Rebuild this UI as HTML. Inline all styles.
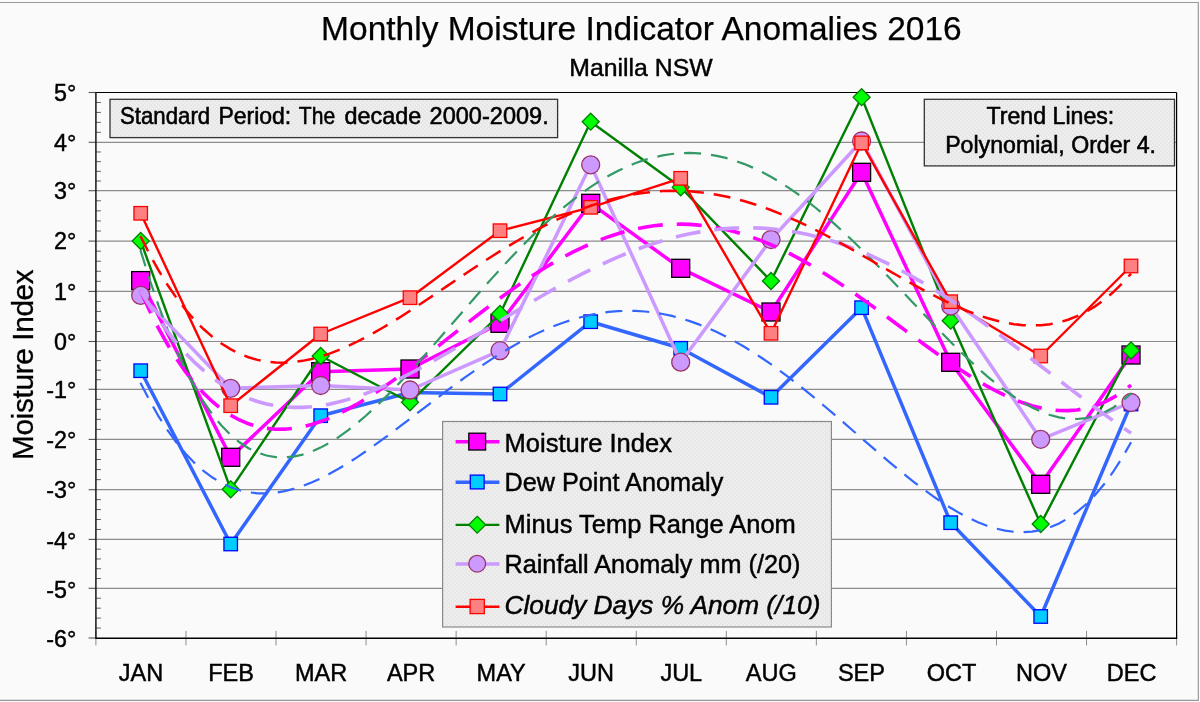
<!DOCTYPE html>
<html><head><meta charset="utf-8"><title>Monthly Moisture Indicator Anomalies 2016</title>
<style>html,body{margin:0;padding:0;background:#fafafa;}body{width:1200px;height:702px;overflow:hidden;font-family:"Liberation Sans",sans-serif;}svg{display:block;will-change:transform;}</style></head>
<body>
<svg width="1200" height="702" viewBox="0 0 1200 702" font-family="'Liberation Sans', sans-serif" fill="#000">
<style>text{stroke:#000;stroke-width:0.45px;fill:#000}</style>
<defs><pattern id="dots" width="4" height="4" patternUnits="userSpaceOnUse"><rect width="4" height="4" fill="#e7e7e7"/><rect x="0" y="0" width="1.4" height="2" fill="#f1f1f1"/><rect x="2" y="2" width="1.4" height="2" fill="#f1f1f1"/></pattern></defs>
<rect x="0" y="0" width="1200" height="702" fill="#fafafa"/>
<path d="M0 2.5H1198.3V700.3H0" fill="none" stroke="#989898" stroke-width="1.15"/>
<line x1="95.9" y1="588.3" x2="1176.6" y2="588.3" stroke="#8c8c8c" stroke-width="1.2"/>
<line x1="95.9" y1="539.4" x2="1176.6" y2="539.4" stroke="#8c8c8c" stroke-width="1.2"/>
<line x1="95.9" y1="489.7" x2="1176.6" y2="489.7" stroke="#8c8c8c" stroke-width="1.2"/>
<line x1="95.9" y1="439.4" x2="1176.6" y2="439.4" stroke="#8c8c8c" stroke-width="1.2"/>
<line x1="95.9" y1="389.3" x2="1176.6" y2="389.3" stroke="#8c8c8c" stroke-width="1.2"/>
<line x1="95.9" y1="341.5" x2="1176.6" y2="341.5" stroke="#8c8c8c" stroke-width="1.2"/>
<line x1="95.9" y1="291.4" x2="1176.6" y2="291.4" stroke="#8c8c8c" stroke-width="1.2"/>
<line x1="95.9" y1="241.1" x2="1176.6" y2="241.1" stroke="#8c8c8c" stroke-width="1.2"/>
<line x1="95.9" y1="190.7" x2="1176.6" y2="190.7" stroke="#8c8c8c" stroke-width="1.2"/>
<line x1="95.9" y1="142.3" x2="1176.6" y2="142.3" stroke="#8c8c8c" stroke-width="1.2"/>
<line x1="88.6" y1="92.5" x2="95.9" y2="92.5" stroke="#555" stroke-width="1.1"/>
<line x1="95.9" y1="102.46" x2="100.9" y2="102.46" stroke="#5a5a5a" stroke-width="0.95"/>
<line x1="95.9" y1="112.42" x2="100.9" y2="112.42" stroke="#5a5a5a" stroke-width="0.95"/>
<line x1="95.9" y1="122.38" x2="100.9" y2="122.38" stroke="#5a5a5a" stroke-width="0.95"/>
<line x1="95.9" y1="132.34" x2="100.9" y2="132.34" stroke="#5a5a5a" stroke-width="0.95"/>
<line x1="88.6" y1="142.3" x2="95.9" y2="142.3" stroke="#555" stroke-width="1.1"/>
<line x1="95.9" y1="151.98" x2="100.9" y2="151.98" stroke="#5a5a5a" stroke-width="0.95"/>
<line x1="95.9" y1="161.66" x2="100.9" y2="161.66" stroke="#5a5a5a" stroke-width="0.95"/>
<line x1="95.9" y1="171.34" x2="100.9" y2="171.34" stroke="#5a5a5a" stroke-width="0.95"/>
<line x1="95.9" y1="181.02" x2="100.9" y2="181.02" stroke="#5a5a5a" stroke-width="0.95"/>
<line x1="88.6" y1="190.7" x2="95.9" y2="190.7" stroke="#555" stroke-width="1.1"/>
<line x1="95.9" y1="200.78" x2="100.9" y2="200.78" stroke="#5a5a5a" stroke-width="0.95"/>
<line x1="95.9" y1="210.86" x2="100.9" y2="210.86" stroke="#5a5a5a" stroke-width="0.95"/>
<line x1="95.9" y1="220.94" x2="100.9" y2="220.94" stroke="#5a5a5a" stroke-width="0.95"/>
<line x1="95.9" y1="231.02" x2="100.9" y2="231.02" stroke="#5a5a5a" stroke-width="0.95"/>
<line x1="88.6" y1="241.1" x2="95.9" y2="241.1" stroke="#555" stroke-width="1.1"/>
<line x1="95.9" y1="251.16" x2="100.9" y2="251.16" stroke="#5a5a5a" stroke-width="0.95"/>
<line x1="95.9" y1="261.22" x2="100.9" y2="261.22" stroke="#5a5a5a" stroke-width="0.95"/>
<line x1="95.9" y1="271.28" x2="100.9" y2="271.28" stroke="#5a5a5a" stroke-width="0.95"/>
<line x1="95.9" y1="281.34" x2="100.9" y2="281.34" stroke="#5a5a5a" stroke-width="0.95"/>
<line x1="88.6" y1="291.4" x2="95.9" y2="291.4" stroke="#555" stroke-width="1.1"/>
<line x1="95.9" y1="301.42" x2="100.9" y2="301.42" stroke="#5a5a5a" stroke-width="0.95"/>
<line x1="95.9" y1="311.44" x2="100.9" y2="311.44" stroke="#5a5a5a" stroke-width="0.95"/>
<line x1="95.9" y1="321.46" x2="100.9" y2="321.46" stroke="#5a5a5a" stroke-width="0.95"/>
<line x1="95.9" y1="331.48" x2="100.9" y2="331.48" stroke="#5a5a5a" stroke-width="0.95"/>
<line x1="88.6" y1="341.5" x2="95.9" y2="341.5" stroke="#555" stroke-width="1.1"/>
<line x1="95.9" y1="351.06" x2="100.9" y2="351.06" stroke="#5a5a5a" stroke-width="0.95"/>
<line x1="95.9" y1="360.62" x2="100.9" y2="360.62" stroke="#5a5a5a" stroke-width="0.95"/>
<line x1="95.9" y1="370.18" x2="100.9" y2="370.18" stroke="#5a5a5a" stroke-width="0.95"/>
<line x1="95.9" y1="379.74" x2="100.9" y2="379.74" stroke="#5a5a5a" stroke-width="0.95"/>
<line x1="88.6" y1="389.3" x2="95.9" y2="389.3" stroke="#555" stroke-width="1.1"/>
<line x1="95.9" y1="399.32" x2="100.9" y2="399.32" stroke="#5a5a5a" stroke-width="0.95"/>
<line x1="95.9" y1="409.34" x2="100.9" y2="409.34" stroke="#5a5a5a" stroke-width="0.95"/>
<line x1="95.9" y1="419.36" x2="100.9" y2="419.36" stroke="#5a5a5a" stroke-width="0.95"/>
<line x1="95.9" y1="429.38" x2="100.9" y2="429.38" stroke="#5a5a5a" stroke-width="0.95"/>
<line x1="88.6" y1="439.4" x2="95.9" y2="439.4" stroke="#555" stroke-width="1.1"/>
<line x1="95.9" y1="449.46" x2="100.9" y2="449.46" stroke="#5a5a5a" stroke-width="0.95"/>
<line x1="95.9" y1="459.52" x2="100.9" y2="459.52" stroke="#5a5a5a" stroke-width="0.95"/>
<line x1="95.9" y1="469.58" x2="100.9" y2="469.58" stroke="#5a5a5a" stroke-width="0.95"/>
<line x1="95.9" y1="479.64" x2="100.9" y2="479.64" stroke="#5a5a5a" stroke-width="0.95"/>
<line x1="88.6" y1="489.7" x2="95.9" y2="489.7" stroke="#555" stroke-width="1.1"/>
<line x1="95.9" y1="499.64" x2="100.9" y2="499.64" stroke="#5a5a5a" stroke-width="0.95"/>
<line x1="95.9" y1="509.58" x2="100.9" y2="509.58" stroke="#5a5a5a" stroke-width="0.95"/>
<line x1="95.9" y1="519.52" x2="100.9" y2="519.52" stroke="#5a5a5a" stroke-width="0.95"/>
<line x1="95.9" y1="529.46" x2="100.9" y2="529.46" stroke="#5a5a5a" stroke-width="0.95"/>
<line x1="88.6" y1="539.4" x2="95.9" y2="539.4" stroke="#555" stroke-width="1.1"/>
<line x1="95.9" y1="549.18" x2="100.9" y2="549.18" stroke="#5a5a5a" stroke-width="0.95"/>
<line x1="95.9" y1="558.96" x2="100.9" y2="558.96" stroke="#5a5a5a" stroke-width="0.95"/>
<line x1="95.9" y1="568.74" x2="100.9" y2="568.74" stroke="#5a5a5a" stroke-width="0.95"/>
<line x1="95.9" y1="578.52" x2="100.9" y2="578.52" stroke="#5a5a5a" stroke-width="0.95"/>
<line x1="88.6" y1="588.3" x2="95.9" y2="588.3" stroke="#555" stroke-width="1.1"/>
<line x1="95.9" y1="598.24" x2="100.9" y2="598.24" stroke="#5a5a5a" stroke-width="0.95"/>
<line x1="95.9" y1="608.18" x2="100.9" y2="608.18" stroke="#5a5a5a" stroke-width="0.95"/>
<line x1="95.9" y1="618.12" x2="100.9" y2="618.12" stroke="#5a5a5a" stroke-width="0.95"/>
<line x1="95.9" y1="628.06" x2="100.9" y2="628.06" stroke="#5a5a5a" stroke-width="0.95"/>
<line x1="88.6" y1="638" x2="95.9" y2="638" stroke="#555" stroke-width="1.1"/>
<line x1="95.9" y1="630.9" x2="95.9" y2="645.5" stroke="#8e8e8e" stroke-width="1"/>
<line x1="185.96" y1="630.9" x2="185.96" y2="645.5" stroke="#8e8e8e" stroke-width="1"/>
<line x1="276.02" y1="630.9" x2="276.02" y2="645.5" stroke="#8e8e8e" stroke-width="1"/>
<line x1="366.07" y1="630.9" x2="366.07" y2="645.5" stroke="#8e8e8e" stroke-width="1"/>
<line x1="456.13" y1="630.9" x2="456.13" y2="645.5" stroke="#8e8e8e" stroke-width="1"/>
<line x1="546.19" y1="630.9" x2="546.19" y2="645.5" stroke="#8e8e8e" stroke-width="1"/>
<line x1="636.25" y1="630.9" x2="636.25" y2="645.5" stroke="#8e8e8e" stroke-width="1"/>
<line x1="726.31" y1="630.9" x2="726.31" y2="645.5" stroke="#8e8e8e" stroke-width="1"/>
<line x1="816.37" y1="630.9" x2="816.37" y2="645.5" stroke="#8e8e8e" stroke-width="1"/>
<line x1="906.42" y1="630.9" x2="906.42" y2="645.5" stroke="#8e8e8e" stroke-width="1"/>
<line x1="996.48" y1="630.9" x2="996.48" y2="645.5" stroke="#8e8e8e" stroke-width="1"/>
<line x1="1086.54" y1="630.9" x2="1086.54" y2="645.5" stroke="#8e8e8e" stroke-width="1"/>
<line x1="1176.6" y1="630.9" x2="1176.6" y2="645.5" stroke="#8e8e8e" stroke-width="1"/>
<line x1="95.9" y1="92.5" x2="1176.6" y2="92.5" stroke="#000" stroke-width="1.2"/>
<line x1="1176.6" y1="92.5" x2="1176.6" y2="638.2" stroke="#000" stroke-width="1.2"/>
<line x1="95.9" y1="91.9" x2="95.9" y2="639" stroke="#151515" stroke-width="1.5"/>
<line x1="95.9" y1="638.2" x2="1177.2" y2="638.2" stroke="#000" stroke-width="1.35"/>
<polyline points="140.7,280.6 230.7,457.3 320.7,371.7 410,369 500,323.3 590.7,203.3 680.7,268.3 771,312 861.6,172.3 950.7,362.3 1040.7,484.3 1131,355" fill="none" stroke="#ff00ff" stroke-width="3.5" stroke-linejoin="round"/>
<rect x="131.7" y="271.6" width="18" height="18" fill="#ff00ff" stroke="#000000" stroke-width="1.3"/>
<rect x="221.7" y="448.3" width="18" height="18" fill="#ff00ff" stroke="#000000" stroke-width="1.3"/>
<rect x="311.7" y="362.7" width="18" height="18" fill="#ff00ff" stroke="#000000" stroke-width="1.3"/>
<rect x="401" y="360" width="18" height="18" fill="#ff00ff" stroke="#000000" stroke-width="1.3"/>
<rect x="491" y="314.3" width="18" height="18" fill="#ff00ff" stroke="#000000" stroke-width="1.3"/>
<rect x="581.7" y="194.3" width="18" height="18" fill="#ff00ff" stroke="#000000" stroke-width="1.3"/>
<rect x="671.7" y="259.3" width="18" height="18" fill="#ff00ff" stroke="#000000" stroke-width="1.3"/>
<rect x="762" y="303" width="18" height="18" fill="#ff00ff" stroke="#000000" stroke-width="1.3"/>
<rect x="852.6" y="163.3" width="18" height="18" fill="#ff00ff" stroke="#000000" stroke-width="1.3"/>
<rect x="941.7" y="353.3" width="18" height="18" fill="#ff00ff" stroke="#000000" stroke-width="1.3"/>
<rect x="1031.7" y="475.3" width="18" height="18" fill="#ff00ff" stroke="#000000" stroke-width="1.3"/>
<rect x="1122" y="346" width="18" height="18" fill="#ff00ff" stroke="#000000" stroke-width="1.3"/>
<polyline points="140.7,370.7 230.7,544 320.7,415.7 410,392.5 500,394 590.7,321.7 680.7,348.3 771,397.3 861.6,307.7 950.7,522.7 1040.7,616.5 1131,404" fill="none" stroke="#3366ff" stroke-width="3.5" stroke-linejoin="round"/>
<rect x="133.95" y="363.95" width="13.5" height="13.5" fill="#00ccff" stroke="#0000ff" stroke-width="1.3"/>
<rect x="223.95" y="537.25" width="13.5" height="13.5" fill="#00ccff" stroke="#0000ff" stroke-width="1.3"/>
<rect x="313.95" y="408.95" width="13.5" height="13.5" fill="#00ccff" stroke="#0000ff" stroke-width="1.3"/>
<rect x="403.25" y="385.75" width="13.5" height="13.5" fill="#00ccff" stroke="#0000ff" stroke-width="1.3"/>
<rect x="493.25" y="387.25" width="13.5" height="13.5" fill="#00ccff" stroke="#0000ff" stroke-width="1.3"/>
<rect x="583.95" y="314.95" width="13.5" height="13.5" fill="#00ccff" stroke="#0000ff" stroke-width="1.3"/>
<rect x="673.95" y="341.55" width="13.5" height="13.5" fill="#00ccff" stroke="#0000ff" stroke-width="1.3"/>
<rect x="764.25" y="390.55" width="13.5" height="13.5" fill="#00ccff" stroke="#0000ff" stroke-width="1.3"/>
<rect x="854.85" y="300.95" width="13.5" height="13.5" fill="#00ccff" stroke="#0000ff" stroke-width="1.3"/>
<rect x="943.95" y="515.95" width="13.5" height="13.5" fill="#00ccff" stroke="#0000ff" stroke-width="1.3"/>
<rect x="1033.95" y="609.75" width="13.5" height="13.5" fill="#00ccff" stroke="#0000ff" stroke-width="1.3"/>
<rect x="1124.25" y="397.25" width="13.5" height="13.5" fill="#00ccff" stroke="#0000ff" stroke-width="1.3"/>
<polyline points="140.7,241 230.7,489.3 320.7,356 410,402.3 500,314 590.7,121.7 680.7,187.3 771,281 861.6,97.2 950.7,320.7 1040.7,524 1131,350.5" fill="none" stroke="#008000" stroke-width="2.4" stroke-linejoin="round"/>
<path d="M140.7 232.5L149.2 241L140.7 249.5L132.2 241Z" fill="#00ff00" stroke="#008000" stroke-width="1.3"/>
<path d="M230.7 480.8L239.2 489.3L230.7 497.8L222.2 489.3Z" fill="#00ff00" stroke="#008000" stroke-width="1.3"/>
<path d="M320.7 347.5L329.2 356L320.7 364.5L312.2 356Z" fill="#00ff00" stroke="#008000" stroke-width="1.3"/>
<path d="M410 393.8L418.5 402.3L410 410.8L401.5 402.3Z" fill="#00ff00" stroke="#008000" stroke-width="1.3"/>
<path d="M500 305.5L508.5 314L500 322.5L491.5 314Z" fill="#00ff00" stroke="#008000" stroke-width="1.3"/>
<path d="M590.7 113.2L599.2 121.7L590.7 130.2L582.2 121.7Z" fill="#00ff00" stroke="#008000" stroke-width="1.3"/>
<path d="M680.7 178.8L689.2 187.3L680.7 195.8L672.2 187.3Z" fill="#00ff00" stroke="#008000" stroke-width="1.3"/>
<path d="M771 272.5L779.5 281L771 289.5L762.5 281Z" fill="#00ff00" stroke="#008000" stroke-width="1.3"/>
<path d="M861.6 88.7L870.1 97.2L861.6 105.7L853.1 97.2Z" fill="#00ff00" stroke="#008000" stroke-width="1.3"/>
<path d="M950.7 312.2L959.2 320.7L950.7 329.2L942.2 320.7Z" fill="#00ff00" stroke="#008000" stroke-width="1.3"/>
<path d="M1040.7 515.5L1049.2 524L1040.7 532.5L1032.2 524Z" fill="#00ff00" stroke="#008000" stroke-width="1.3"/>
<path d="M1131 342L1139.5 350.5L1131 359L1122.5 350.5Z" fill="#00ff00" stroke="#008000" stroke-width="1.3"/>
<polyline points="140.7,295.4 230.7,388.3 320.7,385.5 410,390 500,350.7 590.7,164.8 680.7,362.2 771,239.5 861.6,141 950.7,306 1040.7,439.3 1131,402.5" fill="none" stroke="#cc99ff" stroke-width="3.5" stroke-linejoin="round"/>
<circle cx="140.7" cy="295.4" r="9" fill="#cc99ff" stroke="#993366" stroke-width="1.3"/>
<circle cx="230.7" cy="388.3" r="9" fill="#cc99ff" stroke="#993366" stroke-width="1.3"/>
<circle cx="320.7" cy="385.5" r="9" fill="#cc99ff" stroke="#993366" stroke-width="1.3"/>
<circle cx="410" cy="390" r="9" fill="#cc99ff" stroke="#993366" stroke-width="1.3"/>
<circle cx="500" cy="350.7" r="9" fill="#cc99ff" stroke="#993366" stroke-width="1.3"/>
<circle cx="590.7" cy="164.8" r="9" fill="#cc99ff" stroke="#993366" stroke-width="1.3"/>
<circle cx="680.7" cy="362.2" r="9" fill="#cc99ff" stroke="#993366" stroke-width="1.3"/>
<circle cx="771" cy="239.5" r="9" fill="#cc99ff" stroke="#993366" stroke-width="1.3"/>
<circle cx="861.6" cy="141" r="9" fill="#cc99ff" stroke="#993366" stroke-width="1.3"/>
<circle cx="950.7" cy="306" r="9" fill="#cc99ff" stroke="#993366" stroke-width="1.3"/>
<circle cx="1040.7" cy="439.3" r="9" fill="#cc99ff" stroke="#993366" stroke-width="1.3"/>
<circle cx="1131" cy="402.5" r="9" fill="#cc99ff" stroke="#993366" stroke-width="1.3"/>
<polyline points="140.7,213.3 230.7,405.7 320.7,334 410,297.7 500,230.7 590.7,207.3 680.7,178.3 771,333.3 861.6,142.9 950.7,301.7 1040.7,356 1131,266" fill="none" stroke="#ff0000" stroke-width="2.4" stroke-linejoin="round"/>
<rect x="133.95" y="206.55" width="13.5" height="13.5" fill="#ff8080" stroke="#ff0000" stroke-width="1.3"/>
<rect x="223.95" y="398.95" width="13.5" height="13.5" fill="#ff8080" stroke="#ff0000" stroke-width="1.3"/>
<rect x="313.95" y="327.25" width="13.5" height="13.5" fill="#ff8080" stroke="#ff0000" stroke-width="1.3"/>
<rect x="403.25" y="290.95" width="13.5" height="13.5" fill="#ff8080" stroke="#ff0000" stroke-width="1.3"/>
<rect x="493.25" y="223.95" width="13.5" height="13.5" fill="#ff8080" stroke="#ff0000" stroke-width="1.3"/>
<rect x="583.95" y="200.55" width="13.5" height="13.5" fill="#ff8080" stroke="#ff0000" stroke-width="1.3"/>
<rect x="673.95" y="171.55" width="13.5" height="13.5" fill="#ff8080" stroke="#ff0000" stroke-width="1.3"/>
<rect x="764.25" y="326.55" width="13.5" height="13.5" fill="#ff8080" stroke="#ff0000" stroke-width="1.3"/>
<rect x="854.85" y="136.15" width="13.5" height="13.5" fill="#ff8080" stroke="#ff0000" stroke-width="1.3"/>
<rect x="943.95" y="294.95" width="13.5" height="13.5" fill="#ff8080" stroke="#ff0000" stroke-width="1.3"/>
<rect x="1033.95" y="349.25" width="13.5" height="13.5" fill="#ff8080" stroke="#ff0000" stroke-width="1.3"/>
<rect x="1124.25" y="259.25" width="13.5" height="13.5" fill="#ff8080" stroke="#ff0000" stroke-width="1.3"/>
<polyline points="140.43,290.48 149.44,310.17 158.44,328.06 167.45,344.22 176.45,358.73 185.46,371.66 194.46,383.09 203.47,393.07 212.48,401.69 221.48,409.01 230.49,415.09 239.49,420 248.5,423.8 257.5,426.56 266.51,428.33 275.52,429.18 284.52,429.17 293.53,428.34 302.53,426.76 311.54,424.49 320.55,421.56 329.55,418.04 338.56,413.98 347.56,409.43 356.57,404.43 365.57,399.02 374.58,393.27 383.59,387.2 392.59,380.87 401.6,374.31 410.6,367.56 419.61,360.66 428.62,353.66 437.62,346.58 446.63,339.46 455.63,332.34 464.64,325.24 473.64,318.2 482.65,311.25 491.66,304.42 500.66,297.73 509.67,291.2 518.67,284.87 527.68,278.76 536.69,272.89 545.69,267.27 554.7,261.93 563.7,256.89 572.71,252.16 581.72,247.77 590.72,243.71 599.73,240.01 608.73,236.67 617.74,233.71 626.74,231.14 635.75,228.96 644.76,227.19 653.76,225.81 662.77,224.85 671.77,224.29 680.78,224.15 689.78,224.41 698.79,225.09 707.8,226.18 716.8,227.67 725.81,229.55 734.81,231.83 743.82,234.49 752.83,237.53 761.83,240.92 770.84,244.67 779.84,248.76 788.85,253.17 797.85,257.88 806.86,262.89 815.87,268.17 824.87,273.7 833.88,279.46 842.88,285.44 851.89,291.59 860.9,297.91 869.9,304.36 878.91,310.92 887.91,317.55 896.92,324.24 905.92,330.93 914.93,337.62 923.94,344.25 932.94,350.79 941.95,357.22 950.95,363.48 959.96,369.54 968.97,375.37 977.97,380.91 986.98,386.12 995.98,390.97 1004.99,395.4 1014,399.36 1023,402.82 1032.01,405.71 1041.01,408 1050.02,409.62 1059.02,410.52 1068.03,410.65 1077.04,409.96 1086.04,408.37 1095.05,405.85 1104.05,402.32 1113.06,397.72 1122.07,391.99 1131.07,385.07" fill="none" stroke="#ff00ff" stroke-width="3.6" stroke-dasharray="25 14"/>
<polyline points="140.43,382.64 149.44,400.26 158.44,416.08 167.45,430.17 176.45,442.62 185.46,453.5 194.46,462.9 203.47,470.88 212.48,477.53 221.48,482.92 230.49,487.13 239.49,490.21 248.5,492.24 257.5,493.28 266.51,493.41 275.52,492.69 284.52,491.17 293.53,488.93 302.53,486.01 311.54,482.49 320.55,478.4 329.55,473.82 338.56,468.79 347.56,463.36 356.57,457.59 365.57,451.53 374.58,445.21 383.59,438.69 392.59,432.01 401.6,425.22 410.6,418.35 419.61,411.44 428.62,404.54 437.62,397.67 446.63,390.88 455.63,384.19 464.64,377.65 473.64,371.28 482.65,365.1 491.66,359.15 500.66,353.45 509.67,348.02 518.67,342.9 527.68,338.09 536.69,333.62 545.69,329.51 554.7,325.78 563.7,322.43 572.71,319.48 581.72,316.95 590.72,314.84 599.73,313.17 608.73,311.94 617.74,311.15 626.74,310.81 635.75,310.93 644.76,311.5 653.76,312.52 662.77,314 671.77,315.93 680.78,318.29 689.78,321.1 698.79,324.34 707.8,327.99 716.8,332.06 725.81,336.51 734.81,341.36 743.82,346.56 752.83,352.12 761.83,358 770.84,364.19 779.84,370.68 788.85,377.42 797.85,384.41 806.86,391.6 815.87,398.98 824.87,406.52 833.88,414.18 842.88,421.93 851.89,429.74 860.9,437.57 869.9,445.38 878.91,453.14 887.91,460.8 896.92,468.33 905.92,475.67 914.93,482.79 923.94,489.64 932.94,496.17 941.95,502.33 950.95,508.06 959.96,513.33 968.97,518.07 977.97,522.22 986.98,525.73 995.98,528.55 1004.99,530.6 1014,531.84 1023,532.19 1032.01,531.59 1041.01,529.97 1050.02,527.27 1059.02,523.42 1068.03,518.34 1077.04,511.96 1086.04,504.22 1095.05,495.02 1104.05,484.3 1113.06,471.98 1122.07,457.98 1131.07,442.21" fill="none" stroke="#3366ff" stroke-width="2.2" stroke-dasharray="17 10"/>
<polyline points="140.43,250.06 149.44,278.99 158.44,305.32 167.45,329.15 176.45,350.6 185.46,369.76 194.46,386.74 203.47,401.63 212.48,414.54 221.48,425.55 230.49,434.77 239.49,442.29 248.5,448.19 257.5,452.57 266.51,455.51 275.52,457.1 284.52,457.42 293.53,456.55 302.53,454.57 311.54,451.57 320.55,447.6 329.55,442.76 338.56,437.11 347.56,430.72 356.57,423.66 365.57,416 374.58,407.81 383.59,399.14 392.59,390.05 401.6,380.62 410.6,370.89 419.61,360.91 428.62,350.76 437.62,340.47 446.63,330.1 455.63,319.69 464.64,309.3 473.64,298.96 482.65,288.72 491.66,278.63 500.66,268.72 509.67,259.02 518.67,249.58 527.68,240.43 536.69,231.61 545.69,223.13 554.7,215.03 563.7,207.34 572.71,200.08 581.72,193.27 590.72,186.94 599.73,181.11 608.73,175.79 617.74,170.99 626.74,166.74 635.75,163.05 644.76,159.91 653.76,157.35 662.77,155.38 671.77,153.98 680.78,153.17 689.78,152.96 698.79,153.32 707.8,154.28 716.8,155.82 725.81,157.93 734.81,160.6 743.82,163.84 752.83,167.62 761.83,171.93 770.84,176.76 779.84,182.09 788.85,187.91 797.85,194.18 806.86,200.89 815.87,208.01 824.87,215.52 833.88,223.38 842.88,231.58 851.89,240.07 860.9,248.83 869.9,257.82 878.91,267 887.91,276.33 896.92,285.77 905.92,295.28 914.93,304.82 923.94,314.33 932.94,323.77 941.95,333.1 950.95,342.25 959.96,351.17 968.97,359.82 977.97,368.13 986.98,376.04 995.98,383.49 1004.99,390.42 1014,396.77 1023,402.47 1032.01,407.45 1041.01,411.63 1050.02,414.96 1059.02,417.35 1068.03,418.73 1077.04,419.02 1086.04,418.15 1095.05,416.02 1104.05,412.57 1113.06,407.7 1122.07,401.33 1131.07,393.37" fill="none" stroke="#339966" stroke-width="2.2" stroke-dasharray="17 10"/>
<polyline points="140.43,290.75 149.44,305.49 158.44,319.04 167.45,331.44 176.45,342.75 185.46,352.99 194.46,362.21 203.47,370.45 212.48,377.75 221.48,384.15 230.49,389.69 239.49,394.4 248.5,398.33 257.5,401.5 266.51,403.97 275.52,405.75 284.52,406.89 293.53,407.42 302.53,407.37 311.54,406.79 320.55,405.69 329.55,404.11 338.56,402.08 347.56,399.63 356.57,396.8 365.57,393.61 374.58,390.09 383.59,386.26 392.59,382.16 401.6,377.81 410.6,373.24 419.61,368.47 428.62,363.53 437.62,358.44 446.63,353.23 455.63,347.91 464.64,342.52 473.64,337.06 482.65,331.57 491.66,326.06 500.66,320.56 509.67,315.08 518.67,309.63 527.68,304.25 536.69,298.94 545.69,293.72 554.7,288.62 563.7,283.63 572.71,278.78 581.72,274.09 590.72,269.56 599.73,265.2 608.73,261.04 617.74,257.08 626.74,253.34 635.75,249.81 644.76,246.52 653.76,243.47 662.77,240.67 671.77,238.13 680.78,235.85 689.78,233.85 698.79,232.12 707.8,230.67 716.8,229.52 725.81,228.65 734.81,228.08 743.82,227.8 752.83,227.83 761.83,228.15 770.84,228.78 779.84,229.71 788.85,230.94 797.85,232.47 806.86,234.3 815.87,236.42 824.87,238.84 833.88,241.55 842.88,244.54 851.89,247.82 860.9,251.37 869.9,255.19 878.91,259.27 887.91,263.61 896.92,268.19 905.92,273.02 914.93,278.07 923.94,283.34 932.94,288.83 941.95,294.5 950.95,300.37 959.96,306.41 968.97,312.61 977.97,318.96 986.98,325.44 995.98,332.04 1004.99,338.74 1014,345.53 1023,352.38 1032.01,359.29 1041.01,366.23 1050.02,373.19 1059.02,380.15 1068.03,387.08 1077.04,393.96 1086.04,400.78 1095.05,407.52 1104.05,414.14 1113.06,420.63 1122.07,426.97 1131.07,433.12" fill="none" stroke="#cc99ff" stroke-width="3.6" stroke-dasharray="25 14"/>
<polyline points="140.43,236.09 149.44,253.89 158.44,270.08 167.45,284.71 176.45,297.85 185.46,309.58 194.46,319.96 203.47,329.04 212.48,336.9 221.48,343.59 230.49,349.17 239.49,353.71 248.5,357.26 257.5,359.88 266.51,361.61 275.52,362.53 284.52,362.67 293.53,362.09 302.53,360.85 311.54,358.98 320.55,356.54 329.55,353.58 338.56,350.14 347.56,346.26 356.57,341.99 365.57,337.37 374.58,332.45 383.59,327.25 392.59,321.82 401.6,316.19 410.6,310.41 419.61,304.5 428.62,298.5 437.62,292.44 446.63,286.35 455.63,280.27 464.64,274.21 473.64,268.22 482.65,262.3 491.66,256.5 500.66,250.83 509.67,245.31 518.67,239.97 527.68,234.83 536.69,229.9 545.69,225.2 554.7,220.75 563.7,216.57 572.71,212.67 581.72,209.05 590.72,205.74 599.73,202.74 608.73,200.06 617.74,197.72 626.74,195.7 635.75,194.04 644.76,192.71 653.76,191.74 662.77,191.12 671.77,190.85 680.78,190.93 689.78,191.35 698.79,192.13 707.8,193.25 716.8,194.7 725.81,196.48 734.81,198.59 743.82,201.01 752.83,203.73 761.83,206.74 770.84,210.03 779.84,213.58 788.85,217.39 797.85,221.42 806.86,225.67 815.87,230.12 824.87,234.75 833.88,239.52 842.88,244.43 851.89,249.45 860.9,254.56 869.9,259.72 878.91,264.91 887.91,270.1 896.92,275.27 905.92,280.38 914.93,285.39 923.94,290.29 932.94,295.02 941.95,299.56 950.95,303.87 959.96,307.9 968.97,311.63 977.97,315.01 986.98,317.99 995.98,320.54 1004.99,322.62 1014,324.16 1023,325.14 1032.01,325.49 1041.01,325.18 1050.02,324.14 1059.02,322.34 1068.03,319.71 1077.04,316.21 1086.04,311.77 1095.05,306.34 1104.05,299.87 1113.06,292.29 1122.07,283.54 1131.07,273.57" fill="none" stroke="#ff0000" stroke-width="2.5" stroke-dasharray="17 10"/>
<rect x="110" y="99.3" width="447.6" height="38.3" fill="url(#dots)" stroke="#333" stroke-width="1.3"/>
<text x="120" y="123.5" font-size="23.4" textLength="90.2" lengthAdjust="spacingAndGlyphs" style="stroke-width:0.55px">Standard</text>
<text x="218.4" y="123.5" font-size="23.4" textLength="72.8" lengthAdjust="spacingAndGlyphs" style="stroke-width:0.55px">Period:</text>
<text x="298.8" y="123.5" font-size="23.4" textLength="36.3" lengthAdjust="spacingAndGlyphs" style="stroke-width:0.55px">The</text>
<text x="344.6" y="123.5" font-size="23.4" textLength="76.59" lengthAdjust="spacingAndGlyphs" style="stroke-width:0.55px">decade</text>
<text x="429.6" y="123.5" font-size="23.4" textLength="119.1" lengthAdjust="spacingAndGlyphs" style="stroke-width:0.55px">2000-2009.</text>
<rect x="924.3" y="99.3" width="250.2" height="66.6" fill="url(#dots)" stroke="#333" stroke-width="1.3"/>
<text x="1050.4" y="123.8" font-size="23.15" text-anchor="middle" style="stroke-width:0.55px">Trend Lines:</text>
<text x="1050.6" y="152.9" font-size="23.15" text-anchor="middle" style="stroke-width:0.55px">Polynomial, Order 4.</text>
<rect x="442.6" y="421.5" width="388.8" height="205.5" fill="url(#dots)" stroke="#8a8a8a" stroke-width="1.2"/>
<line x1="455.6" y1="441.8" x2="499.4" y2="441.8" stroke="#ff00ff" stroke-width="3.5"/>
<rect x="468.8" y="433.2" width="16.8" height="16.8" fill="#ff00ff" stroke="#000000" stroke-width="1.3"/>
<text x="504.5" y="451.6" font-size="25.2" textLength="167.4" lengthAdjust="spacingAndGlyphs">Moisture Index</text>
<line x1="455.6" y1="482.2" x2="499.4" y2="482.2" stroke="#3366ff" stroke-width="3.5"/>
<rect x="470.3" y="475.1" width="13.8" height="13.8" fill="#00ccff" stroke="#0000ff" stroke-width="1.3"/>
<text x="504.5" y="491.2" font-size="25.2" textLength="218.8" lengthAdjust="spacingAndGlyphs">Dew Point Anomaly</text>
<line x1="455.6" y1="524.9" x2="499.4" y2="524.9" stroke="#008000" stroke-width="2.4"/>
<path d="M477.2 516.3L485.6 524.7L477.2 533.1L468.8 524.7Z" fill="#00ff00" stroke="#008000" stroke-width="1.3"/>
<text x="504.5" y="533.1" font-size="25.2" textLength="291.3" lengthAdjust="spacingAndGlyphs">Minus Temp Range Anom</text>
<line x1="455.6" y1="563.9" x2="499.4" y2="563.9" stroke="#cc99ff" stroke-width="3.5"/>
<circle cx="477.2" cy="563.7" r="8.4" fill="#cc99ff" stroke="#993366" stroke-width="1.3"/>
<text x="504.5" y="572.7" font-size="25.2" textLength="295.9" lengthAdjust="spacingAndGlyphs">Rainfall Anomaly mm (/20)</text>
<line x1="455.6" y1="606.7" x2="499.4" y2="606.7" stroke="#ff0000" stroke-width="2.4"/>
<rect x="470.1" y="599.4" width="14.2" height="14.2" fill="#ff8080" stroke="#ff0000" stroke-width="1.3"/>
<text x="504.5" y="614.1" font-size="25.2" textLength="315.9" lengthAdjust="spacingAndGlyphs" font-style="italic">Cloudy Days % Anom (/10)</text>
<text x="641.4" y="40" font-size="33.5" style="stroke-width:0.25px" text-anchor="middle" fill="#000">Monthly Moisture Indicator Anomalies 2016</text>
<text x="641" y="75.7" font-size="24.8" text-anchor="middle" fill="#000">Manilla NSW</text>
<text transform="translate(32.8 364.6) rotate(-90)" font-size="29.8" textLength="190.6" lengthAdjust="spacing" style="stroke-width:0.3px" text-anchor="middle" fill="#000">Moisture Index</text>
<text x="76.4" y="100.85" font-size="23.3" text-anchor="end">5°</text>
<text x="76.4" y="150.65" font-size="23.3" text-anchor="end">4°</text>
<text x="76.4" y="199.05" font-size="23.3" text-anchor="end">3°</text>
<text x="76.4" y="249.45" font-size="23.3" text-anchor="end">2°</text>
<text x="76.4" y="299.75" font-size="23.3" text-anchor="end">1°</text>
<text x="76.4" y="349.85" font-size="23.3" text-anchor="end">0°</text>
<text x="76.4" y="397.95" font-size="23.3" text-anchor="end">-1°</text>
<text x="76.4" y="448" font-size="23.3" text-anchor="end">-2°</text>
<text x="76.4" y="498.45" font-size="23.3" text-anchor="end">-3°</text>
<text x="76.4" y="548.65" font-size="23.3" text-anchor="end">-4°</text>
<text x="76.4" y="597.65" font-size="23.3" text-anchor="end">-5°</text>
<text x="76.4" y="647.35" font-size="23.3" text-anchor="end">-6°</text>
<text x="140.93" y="681" font-size="23.5" text-anchor="middle" fill="#000">JAN</text>
<text x="230.99" y="681" font-size="23.5" text-anchor="middle" fill="#000">FEB</text>
<text x="321.05" y="681" font-size="23.5" text-anchor="middle" fill="#000">MAR</text>
<text x="411.1" y="681" font-size="23.5" text-anchor="middle" fill="#000">APR</text>
<text x="501.16" y="681" font-size="23.5" text-anchor="middle" fill="#000">MAY</text>
<text x="591.22" y="681" font-size="23.5" text-anchor="middle" fill="#000">JUN</text>
<text x="681.28" y="681" font-size="23.5" text-anchor="middle" fill="#000">JUL</text>
<text x="771.34" y="681" font-size="23.5" text-anchor="middle" fill="#000">AUG</text>
<text x="861.4" y="681" font-size="23.5" text-anchor="middle" fill="#000">SEP</text>
<text x="951.45" y="681" font-size="23.5" text-anchor="middle" fill="#000">OCT</text>
<text x="1041.51" y="681" font-size="23.5" text-anchor="middle" fill="#000">NOV</text>
<text x="1131.57" y="681" font-size="23.5" text-anchor="middle" fill="#000">DEC</text>
</svg>
</body></html>
